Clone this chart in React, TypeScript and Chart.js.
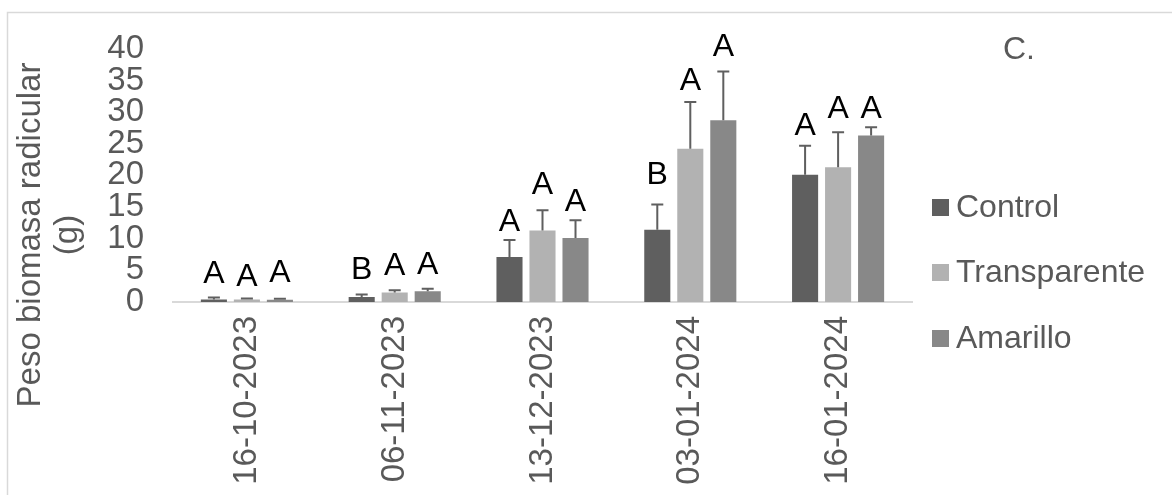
import React, { useEffect, useRef } from "react";
import { Chart, registerables } from "chart.js";

Chart.register(...registerables);

const categories = ["16-10-2023", "06-11-2023", "13-12-2023", "03-01-2024", "16-01-2024"];
const seriesNames = ["Control", "Transparente", "Amarillo"];
const seriesColors = ["#5f5f5f", "#b2b2b2", "#888888"];

const controlValues = [0.4, 0.8, 7.1, 11.4, 20.1];
const transparenteValues = [0.4, 1.5, 11.3, 24.2, 21.3];
const amarilloValues = [0.35, 1.7, 10.1, 28.7, 26.3];

const controlErrors = [0.3, 0.4, 2.7, 4.0, 4.6];
const transparenteErrors = [0.15, 0.35, 3.2, 7.4, 5.5];
const amarilloErrors = [0.15, 0.4, 2.8, 7.7, 1.3];

const controlLetters = ["A", "B", "A", "B", "A"];
const transparenteLetters = ["A", "A", "A", "A", "A"];
const amarilloLetters = ["A", "A", "A", "A", "A"];

// letter baseline heights (in axis units)
const controlLetterPos = [3.0, 3.6, 11.2, 18.7, 26.4];
const transparenteLetterPos = [2.5, 4.2, 17.1, 33.5, 29.1];
const amarilloLetterPos = [3.15, 4.45, 14.4, 38.8, 29.1];

const yMin = 0;
const yMax = 40;
const yStep = 5;

const yTitleLines = ["Peso biomasa radicular", "(g)"];
const panelLabel = "C.";

const FONT = "'Liberation Sans', Arial, sans-serif";
const TEXT_GRAY = "#595959";

const errorsBySeries = [controlErrors, transparenteErrors, amarilloErrors];
const lettersBySeries = [controlLetters, transparenteLetters, amarilloLetters];
const letterPosBySeries = [controlLetterPos, transparenteLetterPos, amarilloLetterPos];

const decorPlugin = {
  id: "decor",
  beforeDraw(chart: any) {
    const ctx = chart.ctx;
    ctx.save();
    ctx.fillStyle = "#ffffff";
    ctx.fillRect(0, 0, chart.width, chart.height);
    ctx.strokeStyle = "#d9d9d9";
    ctx.lineWidth = 1.5;
    ctx.strokeRect(7.5, 12.5, chart.width + 20, chart.height + 20);
    ctx.restore();
  },
  afterDatasetsDraw(chart: any) {
    const ctx = chart.ctx;
    const yScale = chart.scales.y;
    ctx.save();
    chart.data.datasets.forEach((ds: any, di: number) => {
      const meta = chart.getDatasetMeta(di);
      meta.data.forEach((el: any, i: number) => {
        const top = yScale.getPixelForValue(ds.data[i] + errorsBySeries[di][i]);
        ctx.strokeStyle = "#5f5f5f";
        ctx.lineWidth = 2;
        ctx.beginPath();
        ctx.moveTo(el.x, el.y);
        ctx.lineTo(el.x, top);
        ctx.moveTo(el.x - 6, top);
        ctx.lineTo(el.x + 6, top);
        ctx.stroke();
      });
    });
    ctx.fillStyle = "#000000";
    ctx.font = `32px ${FONT}`;
    ctx.textAlign = "center";
    ctx.textBaseline = "alphabetic";
    chart.data.datasets.forEach((ds: any, di: number) => {
      const meta = chart.getDatasetMeta(di);
      meta.data.forEach((el: any, i: number) => {
        const y = yScale.getPixelForValue(letterPosBySeries[di][i]);
        ctx.fillText(lettersBySeries[di][i], el.x, y);
      });
    });
    ctx.restore();
  },
  afterDraw(chart: any) {
    const ctx = chart.ctx;
    ctx.save();
    ctx.fillStyle = TEXT_GRAY;
    ctx.font = `33px ${FONT}`;
    ctx.textAlign = "center";
    ctx.textBaseline = "middle";
    const cy = 235;
    const xs = [31, 68];
    yTitleLines.forEach((line, i) => {
      ctx.save();
      ctx.translate(xs[i], cy);
      ctx.rotate(-Math.PI / 2);
      ctx.fillText(line, 0, 0);
      ctx.restore();
    });
    ctx.font = `32px ${FONT}`;
    ctx.textAlign = "center";
    ctx.fillText(panelLabel, 1019, 50);
    const ys = [207, 272, 338];
    chart.data.datasets.forEach((ds: any, di: number) => {
      ctx.fillStyle = ds.backgroundColor;
      ctx.fillRect(932, ys[di] - 8, 17, 17);
      ctx.fillStyle = TEXT_GRAY;
      ctx.font = `32px ${FONT}`;
      ctx.textAlign = "left";
      ctx.textBaseline = "middle";
      ctx.fillText(ds.label, 956, ys[di] + 1);
    });
    ctx.restore();
  },
};

export default function App() {
  const canvasRef = useRef<HTMLCanvasElement | null>(null);

  useEffect(() => {
    if (!canvasRef.current) return;
    const valuesBySeries = [controlValues, transparenteValues, amarilloValues];
    const chart = new Chart(canvasRef.current, {
      type: "bar",
      data: {
        labels: categories,
        datasets: seriesNames.map((name, i) => ({
          label: name,
          data: valuesBySeries[i],
          backgroundColor: seriesColors[i],
          borderWidth: 0,
          categoryPercentage: 0.67,
          barPercentage: 0.79,
        })),
      },
      options: {
        animation: false,
        responsive: false,
        maintainAspectRatio: false,
        devicePixelRatio: 1,
        layout: { padding: { top: 44, right: 260, left: 0, bottom: 0 } },
        plugins: {
          legend: { display: false },
          tooltip: { enabled: false },
          title: { display: false },
        },
        scales: {
          x: {
            grid: { display: false, drawTicks: false },
            border: { display: true, color: "#d9d9d9", width: 2 },
            ticks: {
              color: TEXT_GRAY,
              font: { family: FONT, size: 33 },
              minRotation: 90,
              maxRotation: 90,
              padding: 14,
              autoSkip: false,
            },
            afterFit(scale: any) {
              scale.height = 193;
            },
          },
          y: {
            min: yMin,
            max: yMax,
            grid: { display: false, drawTicks: false },
            border: { display: false },
            ticks: {
              stepSize: yStep,
              autoSkip: false,
              color: TEXT_GRAY,
              font: { family: FONT, size: 33 },
              padding: 29,
            },
            afterFit(scale: any) {
              scale.width = 173;
            },
          },
        },
      },
      plugins: [decorPlugin],
    });
    return () => chart.destroy();
  }, []);

  return (
    <div style={{ position: "absolute", left: 0, top: 0, width: 1172, height: 495, background: "#fff" }}>
      <canvas ref={canvasRef} width={1172} height={495} />
    </div>
  );
}
